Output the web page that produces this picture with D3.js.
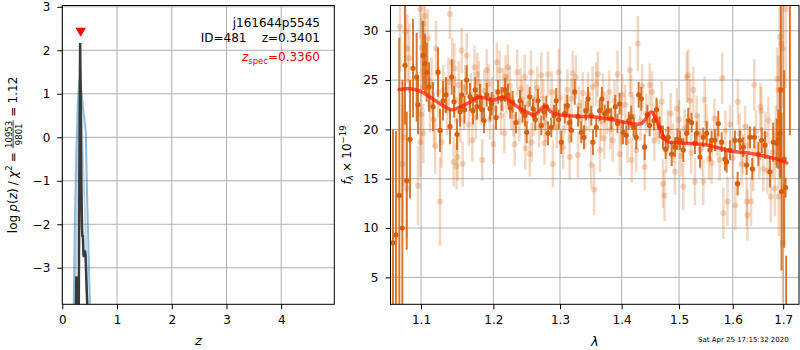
<!DOCTYPE html>
<html>
<head>
<meta charset="utf-8">
<script src="https://cdn.jsdelivr.net/npm/d3@7"></script>
<style>
  body { margin: 0; background: #fff; }
  svg { display: block; font-family: "DejaVu Sans", sans-serif; }
  text { white-space: pre; }
</style>
</head>
<body>
<svg id="fig" width="800" height="350"></svg>
<script>
// ---------------- redshift probability panel ----------------
const zTicks = [0, 1, 2, 3, 4];
const logTicks = [-3, -2, -1, 0, 1, 2, 3];

// log p(z), outer envelope
const pzOuterZ   = [0.200, 0.210, 0.230, 0.255, 0.285, 0.310, 0.326, 0.336, 0.360, 0.390, 0.430, 0.450, 0.475, 0.505, 0.515];
const pzOuterLog = [-4.20, -3.80, -1.90, -0.40, 0.80, 1.30, 1.36, 1.25, 0.90, 0.55, 0.10, -1.20, -2.40, -3.90, -4.20];
// log p(z), inner curve
const pzInnerZ   = [0.235, 0.250, 0.280, 0.310, 0.330, 0.350, 0.380, 0.410, 0.440, 0.460];
const pzInnerLog = [-4.20, -3.00, -1.00, 0.60, 1.25, 0.50, -0.60, -1.60, -2.80, -4.20];
// chi-square based log p(z)
const chiZ   = [0.250, 0.256, 0.270, 0.280, 0.300, 0.306, 0.318, 0.326, 0.336, 0.348, 0.360, 0.368, 0.376, 0.386, 0.396, 0.410, 0.425, 0.440, 0.457, 0.465];
const chiLog = [-4.20, -3.20, -3.30, -4.20, -4.20, -2.50, 0.50, 2.17, 1.00, -1.00, -2.05, -2.30, -2.25, -2.70, -2.75, -2.60, -2.70, -3.30, -3.90, -4.20];

const objName = "j161644p5545";
const objId = 481;
const zPhot = 0.3401;
const zSpec = 0.3360;
const zSpecMarkLog = 2.45;
const chi2Num = 10953, chi2Den = 9801, chi2Red = "1.12";

// ---------------- spectrum panel ----------------
const waveTicks = [1.1, 1.2, 1.3, 1.4, 1.5, 1.6, 1.7];
const fluxTicks = [5, 10, 15, 20, 25, 30];

const darkWave = [
  1.0636,1.0674,1.0717,1.0756,1.0790,1.0813,1.0856,1.0895,1.0943,1.0960,
  1.1026,1.1053,1.1076,1.1106,1.1160,1.1227,1.1254,1.1295,1.1336,1.1390,
  1.1413,1.1445,1.1486,1.1528,1.1551,1.1590,1.1621,1.1667,1.1709,1.1740,
  1.1766,1.1808,1.1835,1.1865,1.1904,1.1951,1.1975,1.2038,1.2066,1.2120,
  1.2168,1.2212,1.2245,1.2280,1.2330,1.2390,1.2430,1.2465,1.2490,1.2535,
  1.2585,1.2620,1.2661,1.2711,1.2750,1.2788,1.2814,1.2865,1.2907,1.2942,
  1.2980,1.3020,1.3074,1.3115,1.3152,1.3178,1.3232,1.3284,1.3337,1.3380,
  1.3410,1.3445,1.3498,1.3525,1.3579,1.3635,1.3672,1.3717,1.3771,1.3826,
  1.3893,1.3930,1.3966,1.4022,1.4078,1.4120,1.4162,1.4205,1.4248,1.4289,
  1.4334,1.4392,1.4440,1.4479,1.4554,1.4600,1.4654,1.4713,1.4760,1.4807,
  1.4867,1.4926,1.4970,1.5016,1.5076,1.5138,1.5167,1.5229,1.5289,1.5321,
  1.5382,1.5443,1.5506,1.5568,1.5599,1.5661,1.5724,1.5788,1.5851,1.5883,
  1.5946,1.6042,1.6094,1.6139,1.6203,1.6269,1.6334,1.6379,1.6419,1.6499,
  1.6566,1.6632,1.6731,1.6798,1.6867,1.6900,1.6934,1.6950,1.6966,1.7020,
  1.7048,1.7060,1.7137
];
const darkFlux = [
  8.5,9.3,13.3,10.0,26.5,14.8,19.0,26.2,25.3,22.5,
  27.5,26.7,25.8,24.3,22.3,25.8,19.9,22.9,23.5,20.3,
  25.3,22.8,19.5,21.8,23.5,22.0,25.0,23.3,21.9,24.0,
  22.3,23.3,22.0,20.9,23.5,22.1,22.6,21.2,23.8,23.1,
  24.0,23.5,22.2,22.8,20.7,22.9,21.8,21.4,19.7,23.3,
  22.1,21.0,22.9,20.4,21.8,22.3,19.6,20.2,21.4,22.9,
  21.0,18.7,21.6,22.4,20.7,19.9,23.8,21.3,19.7,19.2,
  21.9,23.1,21.4,18.7,20.2,21.9,23.1,21.6,21.9,21.1,
  22.3,20.6,22.6,19.7,19.4,20.9,21.3,20.2,19.2,23.5,
  23.1,18.2,21.5,20.4,20.9,22.0,20.2,19.2,18.0,19.2,
  17.5,18.2,19.0,18.9,17.9,19.6,20.9,20.7,18.6,19.6,
  17.2,19.2,19.6,17.9,18.9,18.9,20.6,18.7,17.0,16.7,
  17.9,18.9,14.5,18.9,18.2,16.4,19.2,16.0,19.2,17.5,
  18.9,18.4,15.7,18.7,18.6,19.0,19.6,24.0,13.7,17.0,
  14.1,0.5,36.0
];
const darkErr = [
  11.5,10.5,16.0,15.0,6.0,7.0,6.0,5.0,4.5,3.0,
  3.5,3.0,3.0,2.5,2.5,2.5,2.2,2.0,1.8,1.8,
  1.8,1.6,1.6,1.5,1.5,1.4,1.5,1.4,1.4,1.3,
  1.3,1.3,1.2,1.3,1.2,1.2,1.2,1.2,1.2,1.2,
  1.2,1.1,1.1,1.1,1.1,1.1,1.1,1.1,1.1,1.0,
  1.0,1.1,1.2,1.0,0.9,1.1,1.2,1.0,1.1,1.3,
  1.0,1.2,1.0,1.1,0.9,1.2,1.3,1.0,1.1,1.2,
  1.0,1.2,1.0,1.3,1.0,1.1,1.2,0.9,1.0,1.1,
  1.2,1.0,1.1,1.2,1.0,0.9,1.1,1.0,1.2,1.3,
  1.2,1.3,1.0,1.1,1.0,1.2,1.1,1.2,1.0,1.1,
  1.2,1.0,1.1,1.0,1.2,1.1,1.3,1.0,1.1,1.2,
  1.1,1.0,1.2,1.1,1.0,1.1,1.3,1.0,1.2,1.1,
  1.0,1.0,1.2,1.0,1.0,1.0,1.1,1.1,1.1,1.2,
  1.3,1.4,1.6,2.0,2.5,3.0,4.5,9.0,8.0,9.0,
  1.0,6.7,16.6
];

const lightWave = [
  1.0725,1.0760,1.0775,1.0795,1.0815,1.0820,1.0845,1.0960,1.0987,1.0990,
  1.1000,1.1010,1.1030,1.1035,1.1053,1.1090,1.1120,1.1140,1.1170,1.1190,
  1.1200,1.1230,1.1254,1.1275,1.1300,1.1350,1.1370,1.1390,1.1420,1.1440,
  1.1450,1.1460,1.1480,1.1495,1.1510,1.1530,1.1551,1.1565,1.1580,1.1600,
  1.1621,1.1650,1.1680,1.1700,1.1730,1.1750,1.1770,1.1790,1.1820,1.1840,
  1.1870,1.1904,1.1930,1.1950,1.1980,1.2000,1.2030,1.2050,1.2090,1.2110,
  1.2140,1.2160,1.2175,1.2190,1.2210,1.2240,1.2260,1.2290,1.2310,1.2350,
  1.2380,1.2400,1.2420,1.2460,1.2470,1.2500,1.2535,1.2555,1.2565,1.2590,
  1.2620,1.2650,1.2680,1.2711,1.2740,1.2760,1.2780,1.2814,1.2870,1.2890,
  1.2920,1.2950,1.2980,1.3000,1.3050,1.3080,1.3115,1.3140,1.3152,1.3180,
  1.3200,1.3250,1.3284,1.3300,1.3330,1.3360,1.3400,1.3445,1.3470,1.3498,
  1.3520,1.3545,1.3579,1.3605,1.3640,1.3660,1.3690,1.3710,1.3750,1.3790,
  1.3810,1.3850,1.3880,1.3930,1.3966,1.3990,1.4010,1.4060,1.4100,1.4140,
  1.4162,1.4170,1.4200,1.4248,1.4275,1.4320,1.4350,1.4392,1.4420,1.4479,
  1.4520,1.4560,1.4600,1.4640,1.4690,1.4713,1.4740,1.4770,1.4800,1.4850,
  1.4890,1.4926,1.4960,1.5000,1.5040,1.5076,1.5100,1.5138,1.5167,1.5200,
  1.5220,1.5260,1.5290,1.5320,1.5360,1.5400,1.5443,1.5470,1.5500,1.5550,
  1.5600,1.5650,1.5700,1.5750,1.5800,1.5820,1.5860,1.5900,1.5950,1.6000,
  1.6050,1.6100,1.6130,1.6170,1.6200,1.6240,1.6270,1.6285,1.6300,1.6355,
  1.6400,1.6420,1.6450,1.6520,1.6540,1.6560,1.6600,1.6640,1.6680,1.6700,
  1.6750,1.6790,1.6830,1.6850,1.6880,1.6900,1.6910,1.6930,1.6960,1.6990,
  1.6995,1.7048
];
const lightFlux = [
  30.4,16.5,19.2,29.9,14.0,28.2,27.2,14.3,32.2,18.7,
  21.5,28.3,19.6,30.7,31.5,29.2,22.5,24.5,21.0,18.3,
  28.2,23.8,12.7,18.7,24.0,21.9,24.8,31.7,26.8,16.7,
  26.2,23.0,16.3,17.2,24.5,21.0,28.0,16.5,22.3,24.2,
  27.5,20.5,23.5,18.9,26.3,21.2,25.6,24.8,22.5,16.9,
  23.9,26.0,24.6,21.0,23.3,18.5,22.1,26.8,26.0,21.4,
  24.0,19.6,25.3,23.6,26.3,24.4,22.0,21.3,18.5,25.8,
  20.8,24.1,23.0,25.3,18.1,22.6,17.5,25.8,18.7,21.4,
  23.0,24.2,20.3,25.5,23.1,18.6,20.7,25.6,23.8,16.5,
  22.0,20.2,25.8,23.2,18.2,21.6,24.0,20.6,17.2,23.1,
  25.7,25.3,17.4,22.4,21.0,23.7,20.1,23.6,21.7,16.4,
  24.3,13.9,24.6,25.6,17.9,20.8,23.6,19.1,21.5,23.8,
  20.0,18.9,22.9,25.6,17.5,20.4,23.5,22.5,18.8,26.0,
  23.5,16.9,21.3,17.9,28.7,20.9,24.4,16.2,21.6,24.5,
  23.8,18.9,21.0,20.5,22.8,14.5,13.3,17.8,20.0,21.6,
  18.6,15.7,22.1,21.0,17.3,14.2,20.1,25.3,25.5,22.9,
  17.6,24.0,14.7,21.4,19.5,18.0,14.7,23.0,20.6,17.0,
  16.6,21.1,19.3,16.9,25.2,11.5,19.9,12.7,20.5,17.1,
  12.3,22.8,19.6,16.5,17.5,20.3,12.7,11.3,18.4,12.7,
  15.9,24.5,19.8,17.2,22.3,21.9,16.0,19.5,15.8,20.9,
  13.2,17.7,14.0,19.4,25.1,24.0,13.2,29.4,28.7,28.2,
  8.5,32.2
];
const lightErr = [
  4.5,6.0,5.0,4.0,5.0,3.5,3.5,4.0,3.0,3.5,
  3.0,3.0,3.0,3.0,3.0,3.0,2.8,2.8,2.8,2.8,
  2.8,2.6,4.5,2.6,2.5,2.5,2.5,2.5,2.5,2.5,
  2.5,2.4,2.4,2.4,2.4,2.3,2.3,2.3,2.3,2.3,
  2.3,2.2,2.2,2.2,2.2,2.2,2.2,2.1,2.1,2.1,
  2.1,2.1,2.0,2.0,2.0,2.0,2.0,2.0,2.0,2.0,
  2.2,2.0,2.2,2.0,2.3,2.0,2.1,2.0,2.2,2.3,
  2.0,2.1,2.0,2.3,2.2,2.0,2.3,2.2,2.0,2.1,
  2.0,2.2,2.1,2.3,2.0,2.2,2.0,2.3,2.1,2.4,
  2.0,2.1,2.4,2.0,2.2,2.0,2.1,2.0,2.3,2.1,
  2.3,2.2,2.3,2.0,2.0,2.1,2.0,2.2,2.0,2.4,
  2.1,2.6,2.2,2.3,2.2,2.0,2.1,2.1,2.0,2.2,
  2.0,2.2,2.1,2.4,2.2,2.0,2.1,2.0,2.2,2.4,
  2.1,2.3,2.0,2.2,2.8,2.0,2.2,2.4,2.0,2.2,
  2.1,2.1,2.0,2.0,2.1,2.5,2.6,2.2,2.0,2.1,
  2.0,2.3,2.1,2.0,2.1,2.4,2.0,2.6,2.6,2.2,
  2.1,2.3,2.4,2.0,2.0,2.1,2.4,2.3,2.0,2.1,
  2.1,2.0,2.0,2.1,2.6,2.6,2.0,2.5,2.0,2.1,
  2.5,2.3,2.0,2.1,2.0,2.1,2.5,2.6,2.1,2.5,
  2.2,2.6,2.2,2.2,2.4,2.4,2.3,2.3,2.4,2.4,
  2.6,2.6,2.8,3.0,3.2,3.5,4.0,4.5,5.0,6.0,
  6.0,8.0
];

// best-fit template
const modelWave = [1.0713,1.0856,1.0987,1.1120,1.1254,1.1413,1.1528,1.1667,1.1762,1.1880,
                   1.1994,1.2139,1.2286,1.2435,1.2540,1.2611,1.2763,1.2865,1.3020,1.3284,
                   1.3553,1.3826,1.4106,1.4334,1.4507,1.4624,1.4743,1.4800,1.5047,1.5413,
                   1.5661,1.5979,1.6301,1.6632,1.6900,1.7072];
const modelFlux = [24.03,24.13,23.89,23.28,22.61,22.00,22.27,22.77,23.22,23.18,
                   22.95,23.28,22.61,21.93,21.60,21.43,22.34,21.76,21.43,21.33,
                   21.26,21.02,20.65,20.59,21.76,20.59,19.07,18.75,18.62,18.49,
                   18.22,17.78,17.61,17.28,16.94,16.60];

const stamp = "Sat Apr 25 17:15:32 2020";

// ---------------- layout ----------------
const svg = d3.select("#fig");
const ORANGE = "#d5600c";
const GRID = "#b0b0b0";

const pzBox = { left: 62.3, right: 334.3, top: 5.5, bottom: 304.3 };
const spBox = { left: 390.5, right: 799, top: 5.5, bottom: 304.3 };

const xZ = d3.scaleLinear().domain([0, 4.97]).range([pzBox.left, pzBox.right]);
const yP = d3.scaleLinear().domain([-3.84, 3.03]).range([pzBox.bottom, pzBox.top]);
const xW = d3.scaleLog().domain([1.0604, 1.7326]).range([spBox.left, spBox.right]);
const yF = d3.scaleLinear().domain([2.27, 32.56]).range([spBox.bottom, spBox.top]);

const defs = svg.append("defs");
function clip(id, b) {
  defs.append("clipPath").attr("id", id).append("rect")
    .attr("x", b.left).attr("y", b.top)
    .attr("width", b.right - b.left).attr("height", b.bottom - b.top);
}
clip("clipPz", pzBox);
clip("clipSp", spBox);

function grid(b, xs, xv, ys, yv) {
  const g = svg.append("g").attr("stroke", GRID).attr("stroke-width", 1);
  g.selectAll(".gx").data(xv).join("line")
    .attr("x1", d => xs(d)).attr("x2", d => xs(d))
    .attr("y1", b.top).attr("y2", b.bottom);
  g.selectAll(".gy").data(yv).join("line")
    .attr("x1", b.left).attr("x2", b.right)
    .attr("y1", d => ys(d)).attr("y2", d => ys(d));
}

function styleAxis(g) {
  g.select(".domain").remove();
  g.selectAll(".tick line").attr("stroke", "#000").attr("stroke-width", 1);
  g.selectAll(".tick text").attr("fill", "#000")
    .attr("font-size", 12).attr("font-family", "DejaVu Sans, sans-serif");
}

function axes(b, xs, xv, xfmt, ys, yv, yfmt) {
  svg.append("g").attr("transform", `translate(0,${b.bottom})`)
    .call(d3.axisBottom(xs).tickValues(xv).tickFormat(xfmt).tickSize(5).tickPadding(6.5))
    .call(styleAxis);
  svg.append("g").attr("transform", `translate(${b.left},0)`)
    .call(d3.axisLeft(ys).tickValues(yv).tickFormat(yfmt).tickSize(5).tickPadding(7))
    .call(styleAxis);
}

function frame(b) {
  svg.append("rect").attr("x", b.left).attr("y", b.top)
    .attr("width", b.right - b.left).attr("height", b.bottom - b.top)
    .attr("fill", "none").attr("stroke", "#000").attr("stroke-width", 1);
}

// ---------------- left panel ----------------
grid(pzBox, xZ, zTicks, yP, logTicks);

const pzG = svg.append("g").attr("clip-path", "url(#clipPz)");
const lineZ = d3.line().x(d => xZ(d[0])).y(d => yP(d[1]));

pzG.append("path").datum(d3.zip(pzInnerZ, pzInnerLog)).attr("d", lineZ)
  .attr("fill", "none").attr("stroke", "#1f77b4").attr("stroke-opacity", 0.3).attr("stroke-width", 2);
pzG.append("path").datum(d3.zip(pzOuterZ, pzOuterLog)).attr("d", lineZ)
  .attr("fill", "none").attr("stroke", "#1f77b4").attr("stroke-opacity", 0.5).attr("stroke-width", 2);
pzG.append("path").datum(d3.zip(chiZ, chiLog)).attr("d", lineZ)
  .attr("fill", "none").attr("stroke", "#3a3a3a").attr("stroke-width", 2.5)
  .attr("stroke-linejoin", "miter");

// spectroscopic redshift marker
svg.append("path")
  .attr("d", d3.symbol(d3.symbolTriangle, 48)())
  .attr("transform", `translate(${xZ(zSpec)},${yP(zSpecMarkLog)}) rotate(180)`)
  .attr("fill", "#ff0000");

axes(pzBox, xZ, zTicks, d3.format("d"), yP, logTicks, d3.format("d"));
frame(pzBox);

// annotations
const ann = svg.append("g").attr("font-size", 12).attr("text-anchor", "end").attr("fill", "#000");
ann.append("text").attr("x", 320).attr("y", 27.3).text(objName);
ann.append("text").attr("x", 320).attr("y", 41.7).text(`ID=${objId}    z=${zPhot.toFixed(4)}`);
const zs = ann.append("text").attr("x", 320).attr("y", 61).attr("fill", "#ff0000");
zs.append("tspan").attr("font-style", "italic").text("z");
zs.append("tspan").attr("font-size", 8.5).attr("dy", 3).text("spec");
zs.append("tspan").attr("dy", -3).text(`=${zSpec.toFixed(4)}`);

// ---------------- right panel ----------------
grid(spBox, xW, waveTicks, yF, fluxTicks);

const spG = svg.append("g").attr("clip-path", "url(#clipSp)");
const light = lightWave.map((w, i) => ({ w, f: lightFlux[i], e: lightErr[i] }));
const dark = darkWave.map((w, i) => ({ w, f: darkFlux[i], e: darkErr[i] }));

function errorbars(g, data, width, opacity) {
  g.append("g").selectAll("line").data(data).join("line")
    .attr("x1", d => xW(d.w)).attr("x2", d => xW(d.w))
    .attr("y1", d => yF(d.f - d.e)).attr("y2", d => yF(d.f + d.e))
    .attr("stroke", ORANGE).attr("stroke-opacity", opacity).attr("stroke-width", width);
}
function markers(g, data, r, opacity) {
  g.append("g").selectAll("circle").data(data).join("circle")
    .attr("cx", d => xW(d.w)).attr("cy", d => yF(d.f)).attr("r", r)
    .attr("fill", ORANGE).attr("fill-opacity", opacity);
}

errorbars(spG, light, 2.5, 0.25);
markers(spG, light, 3, 0.25);
errorbars(spG, dark, 2, 0.85);
markers(spG, dark, 2.6, 1);

spG.append("path").datum(d3.zip(modelWave, modelFlux))
  .attr("d", d3.line().x(d => xW(d[0])).y(d => yF(d[1])).curve(d3.curveCatmullRom.alpha(0.5)))
  .attr("fill", "none").attr("stroke", "#ff1a00").attr("stroke-opacity", 0.72)
  .attr("stroke-width", 3.5).attr("stroke-linecap", "round");

axes(spBox, xW, waveTicks, d3.format(".1f"), yF, fluxTicks, d3.format("d"));
frame(spBox);

// ---------------- axis titles ----------------
svg.append("text").attr("x", (pzBox.left + pzBox.right) / 2).attr("y", 344.5)
  .attr("text-anchor", "middle").attr("font-size", 13).attr("font-style", "italic").text("z");
svg.append("text").attr("x", (spBox.left + spBox.right) / 2).attr("y", 345.5)
  .attr("text-anchor", "middle").attr("font-size", 13).attr("font-style", "italic").text("λ");

// y title of the p(z) panel: laid out run by run, including a stacked fraction
function mathRuns(parent, runs) {
  const g = parent.append("g");
  let x = 0;
  runs.forEach(r => {
    if (r.gap) { x += r.gap; return; }
    if (r.num !== undefined) {
      const nt = g.append("text").attr("font-size", r.size).attr("y", r.numY).text(r.num);
      const dt = g.append("text").attr("font-size", r.size).attr("y", r.denY).text(r.den);
      const wn = nt.node().getComputedTextLength();
      const wd = dt.node().getComputedTextLength();
      const w = Math.max(wn, wd) + 2;
      nt.attr("x", x + (w - wn) / 2);
      dt.attr("x", x + (w - wd) / 2);
      g.append("line").attr("x1", x + 0.5).attr("x2", x + w - 0.5)
        .attr("y1", r.barY).attr("y2", r.barY).attr("stroke", "#000").attr("stroke-width", 0.8);
      x += w;
      return;
    }
    const t = g.append("text").attr("x", x).attr("y", r.dy || 0)
      .attr("font-size", r.size || 12).text(r.t);
    if (r.italic) t.attr("font-style", "italic");
    x += t.node().getComputedTextLength();
  });
  return { g, width: x };
}

const yTitleL = svg.append("g").attr("fill", "#000")
  .attr("transform", `translate(16.5,${(pzBox.top + pzBox.bottom) / 2}) rotate(-90)`);
const runsL = mathRuns(yTitleL, [
  { t: "log" }, { gap: 3.2 }, { t: "p", italic: true }, { t: "(" }, { t: "z", italic: true }, { t: ")" },
  { gap: 3.2 }, { t: "/" }, { gap: 3.2 }, { t: "χ", italic: true }, { t: "2", size: 8.5, dy: -4.8 },
  { gap: 3.2 }, { t: "=" }, { gap: 3.2 },
  { num: String(chi2Num), den: String(chi2Den), size: 8.5, numY: -5, denY: 5, barY: -3.4 },
  { gap: 3.2 }, { t: "=" }, { gap: 3.2 }, { t: chi2Red }
]);
runsL.g.attr("transform", `translate(${-runsL.width / 2},0)`);

const yTitleR = svg.append("g").attr("fill", "#000")
  .attr("transform", `translate(350.5,${(spBox.top + spBox.bottom) / 2}) rotate(-90)`);
const runsR = mathRuns(yTitleR, [
  { t: "f", italic: true }, { t: "λ", italic: true, size: 8.5, dy: 2.6 },
  { gap: 3.2 }, { t: "×" }, { gap: 3.2 }, { t: "10" }, { t: "−19", size: 8.5, dy: -5 }
]);
runsR.g.attr("transform", `translate(${-runsR.width / 2},0)`);

// time stamp
svg.append("text").attr("x", 698).attr("y", 341.8).attr("font-size", 7).attr("fill", "#000").text(stamp);
</script>
</body>
</html>
